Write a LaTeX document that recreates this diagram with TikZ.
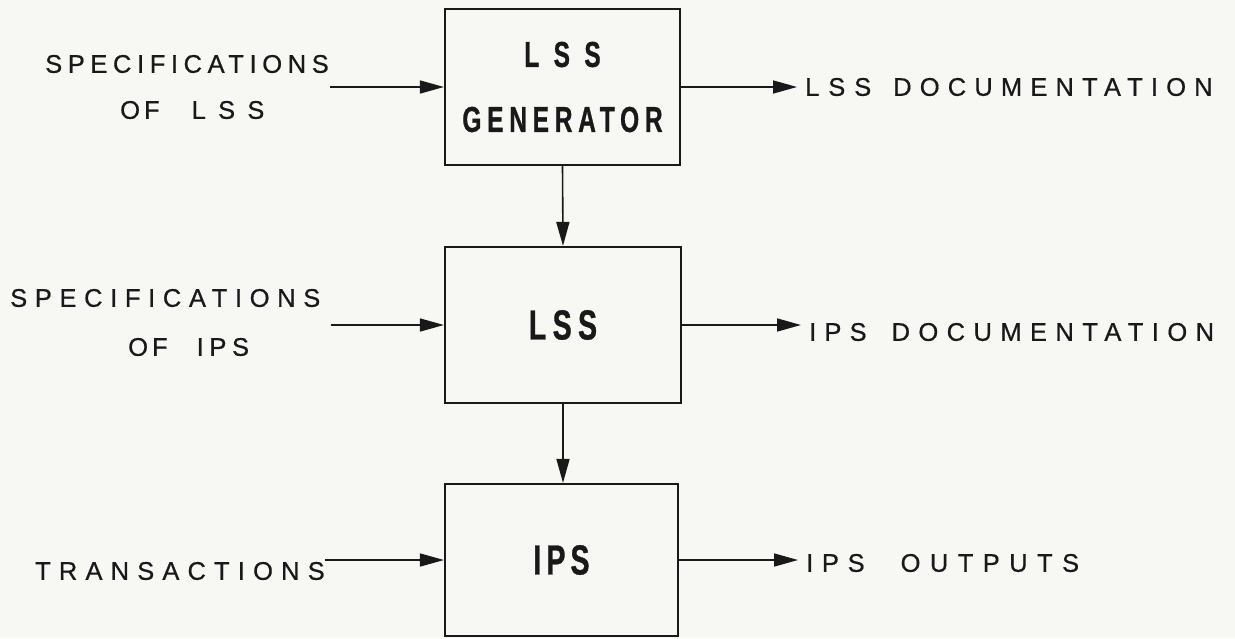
\documentclass[tikz,border=0pt]{standalone}
\usepackage{fontspec}
\setmainfont{Liberation Sans}
\newfontfamily\labfont[LetterSpace=32,FakeBold=0.6]{Liberation Sans}
\newfontfamily\boxfont[FakeStretch=0.68,FakeBold=0.8,LetterSpace=16]{Liberation Sans Bold}
\usetikzlibrary{arrows.meta}
\definecolor{paper}{RGB}{247,247,244}
\definecolor{ink}{RGB}{25,25,25}
\begin{document}
\begin{tikzpicture}[x=1pt,y=-1pt,
  box/.style={draw=ink, line width=2.2pt, inner sep=0pt, text=ink},
  lab/.style={inner sep=0pt, anchor=west, text=ink, font=\fontsize{25.5}{30}\selectfont\labfont},
  arr/.style={draw=ink, line width=1.6pt, -{Triangle[length=24pt,width=13pt]}}]
\clip (0,0) rectangle (1235,638);
\fill[paper] (0,0) rectangle (1235,638);

% boxes
\node[box, minimum width=235pt, minimum height=156pt, align=center,
      font=\fontsize{36}{65}\selectfont\boxfont] (gen) at (562.5,87)
      {{\addfontfeature{LetterSpace=40}LSS}\\GENERATOR};
\node[box, minimum width=236pt, minimum height=156pt,
      font=\fontsize{42}{50}\selectfont\boxfont\addfontfeature{LetterSpace=15}] (lss) at (563,325) {LSS};
\node[box, minimum width=233pt, minimum height=152pt,
      font=\fontsize{42}{50}\selectfont\boxfont\addfontfeature{LetterSpace=12}] (ips) at (561.5,560) {IPS};

% left labels
\node[lab] (spec1a) at (45,64) {\addfontfeature{LetterSpace=22}SPECIFICATIONS};
\node[lab] (spec1b) at (120,110) {{\addfontfeature{LetterSpace=16}OF}\hspace*{32pt}{\addfontfeature{LetterSpace=48}LSS}};
\node[lab] (spec2a) at (10,298) {\addfontfeature{LetterSpace=30}SPECIFICATIONS};
\node[lab] (spec2b) at (128,347) {{\addfontfeature{LetterSpace=16}OF}\hspace*{29pt}{\addfontfeature{LetterSpace=22}IPS}};
\node[lab] (trans) at (35,571) {TRANSACTIONS};

% right labels
\node[lab] (lssdoc) at (805,87) {{\addfontfeature{LetterSpace=35}LSS}\hspace*{22pt}{\addfontfeature{LetterSpace=32}DOCUMENTATION}};
\node[lab] (ipsdoc) at (809,332) {{\addfontfeature{LetterSpace=32}IPS}\hspace*{25pt}{\addfontfeature{LetterSpace=33}DOCUMENTATION}};
\node[lab] (ipsout) at (806,563) {{\addfontfeature{LetterSpace=34}IPS}\hspace*{36pt}{\addfontfeature{LetterSpace=37}OUTPUTS}};

% free ends of the input arrows
\coordinate (s1) at (330,87);
\coordinate (s2) at (331,325);

% connectors
\draw[arr] (s1) -- (gen.west);
\draw[arr] (s2) -- (lss.west);
\draw[arr] (trans.east |- ips.west) -- (ips.west);
\draw[arr, shorten >=8pt] (gen.east) -- (gen.east -| lssdoc.west);
\draw[arr, shorten >=8pt] (lss.east) -- (lss.east -| ipsdoc.west);
\draw[arr, shorten >=8pt] (ips.east) -- (ips.east -| ipsout.west);
\draw[arr] (gen.south) -- (lss.north);
\draw[arr] (lss.south) -- (lss.south |- ips.north);
\end{tikzpicture}
\end{document}
